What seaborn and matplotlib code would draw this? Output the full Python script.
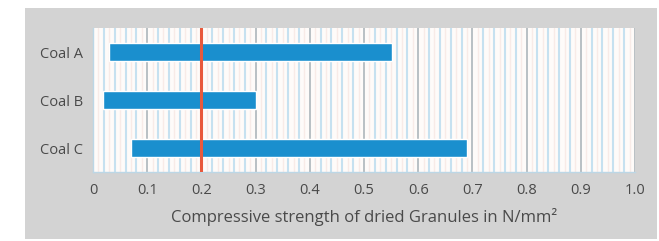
import numpy as np
import pandas as pd
import matplotlib.pyplot as plt
import seaborn as sns
from matplotlib.patches import Rectangle

# data
coals = ["Coal A", "Coal B", "Coal C"]
start = [0.03, 0.018, 0.07]
end = [0.552, 0.30, 0.69]
threshold = 0.2
xticks = [0, 0.1, 0.2, 0.3, 0.4, 0.5, 0.6, 0.7, 0.8, 0.9, 1.0]
xtick_labels = ["0", "0.1", "0.2", "0.3", "0.4", "0.5", "0.6", "0.7", "0.8", "0.9", "1.0"]

df = pd.DataFrame({"coal": coals, "start": start, "end": end})
df["length"] = df["end"] - df["start"]

sns.set_style("white")
plt.rcParams["font.family"] = ["Open Sans", "DejaVu Sans"]

fig = plt.figure(figsize=(6.59, 2.41), dpi=100)
fig.patch.set_facecolor("white")
# grey panel behind the chart
fig.patches.append(Rectangle((25 / 659, 2 / 241), 632 / 659, 231 / 241,
                             transform=fig.transFigure, facecolor="#d3d3d3",
                             edgecolor="none", zorder=-5))

ax = fig.add_axes([93 / 659, 69 / 241, 542 / 659, 144 / 241])
ax.set_facecolor("#fefbf9")

# background grid
for v in np.arange(0.01, 1.0, 0.01):
    if round(v * 100) % 10 == 0:
        continue
    if round(v * 100) % 2 == 0:
        ax.axvline(v, color="#c6e1f0", lw=1.5, zorder=0)
    else:
        ax.axvline(v, color="#f8ebe7", lw=1.0, zorder=0)
for v in xticks[1:]:
    ax.axvline(v, color="#a6b0b6", lw=1.1, zorder=0.5)

sns.barplot(data=df, x="length", y="coal", left=df["start"], orient="y",
            color="#1a8fce", saturation=1, width=0.37, ax=ax, zorder=2)

ax.axvline(threshold, color="#e8593c", lw=2.2, zorder=3)

ax.set_xlim(0, 1.0)
ax.set_ylim(2.5, -0.5)
ax.set_xticks(xticks)
ax.set_xticklabels(xtick_labels)
ax.tick_params(axis="both", length=0, labelsize=10.5, colors="#4a4a4a")
ax.tick_params(axis="x", pad=8)
ax.tick_params(axis="y", pad=7)
ax.set_ylabel("")
ax.set_xlabel("Compressive strength of dried Granules in N/mm²",
              fontsize=12, color="#4a4a4a", labelpad=7)

for s in ["top", "right"]:
    ax.spines[s].set_visible(False)
for s in ["left", "bottom"]:
    ax.spines[s].set_color("#bcd7e6")
    ax.spines[s].set_linewidth(1.0)

fig.savefig("out.png", dpi=100)
